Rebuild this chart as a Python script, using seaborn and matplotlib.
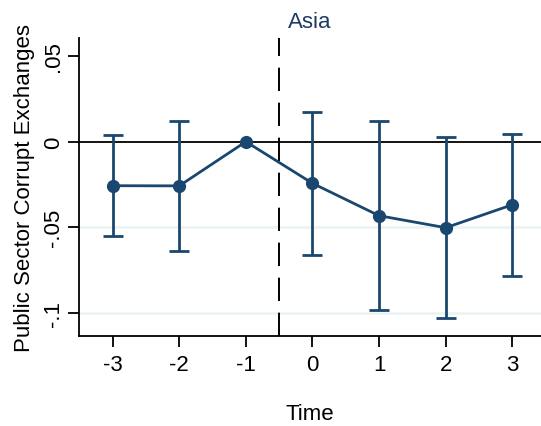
import matplotlib
matplotlib.use("Agg")
import matplotlib.pyplot as plt
import seaborn as sns
import pandas as pd
import numpy as np

time = [-3, -2, -1, 0, 1, 2, 3]
coef = [-0.0257, -0.0258, 0.0, -0.0243, -0.0432, -0.0502, -0.0368]
ci_low = [-0.0550, -0.0638, 0.0, -0.0663, -0.0982, -0.1027, -0.0785]
ci_high = [0.0041, 0.0119, 0.0, 0.0171, 0.0119, 0.0026, 0.0047]
yticks = [-0.1, -0.05, 0, 0.05]
ytick_labels = ["-.1", "-.05", "0", ".05"]
title = "Asia"
xlabel = "Time"
ylabel = "Public Sector Corrupt Exchanges"

sns.set_theme(style="white")
plt.rcParams['font.family'] = ['Liberation Sans', 'DejaVu Sans']

navy = "#1a476f"
fs = 16
df = pd.DataFrame({"time": time, "coef": coef, "lo": ci_low, "hi": ci_high})

fig = plt.figure(figsize=(5.41, 4.27), dpi=100)
ax = fig.add_axes([0.1466, 0.2115, 0.8534, 0.6965])

# grid lines
for yv in [-0.1, -0.05]:
    ax.axhline(yv, color="#eaf2f3", lw=1.8, zorder=0)
ax.axhline(0, color="black", lw=1.3, zorder=1)
ax.axvline(-0.5, color="black", lw=1.4, dashes=(12, 6), zorder=1)

# CIs
mask = df["time"] != -1
sub = df[mask]
ax.errorbar(sub["time"], sub["coef"],
            yerr=[sub["coef"] - sub["lo"], sub["hi"] - sub["coef"]],
            fmt="none", ecolor=navy, elinewidth=2, capsize=7, capthick=2, zorder=2)

sns.lineplot(data=df, x="time", y="coef", ax=ax, color=navy, lw=2,
             marker="o", markersize=9.5, markeredgewidth=0, zorder=3)

ax.set_xlim(-3.5, 3.43)
ax.set_ylim(-0.1132, 0.0603)
ax.set_xticks(time)
ax.set_xticklabels([str(t) for t in time], fontsize=fs)
ax.set_yticks(yticks)
ax.set_yticklabels(ytick_labels, fontsize=fs, rotation=90, va="center")

for s in ["top", "right"]:
    ax.spines[s].set_visible(False)
for s in ["left", "bottom"]:
    ax.spines[s].set_color("black")
    ax.spines[s].set_linewidth(1.3)

ax.tick_params(axis="both", which="both", direction="out", length=8, width=1.3,
               color="black", labelcolor="black", left=True, bottom=True)
ax.tick_params(axis="y", pad=3)
ax.tick_params(axis="x", pad=5)

ax.set_xlabel(xlabel, fontsize=fs, labelpad=20, color="black")
ax.set_ylabel(ylabel, fontsize=fs, labelpad=6, color="black")
ax.set_title(title, fontsize=fs, color="#1e3a63", pad=8)

fig.savefig("out.png", dpi=100)
